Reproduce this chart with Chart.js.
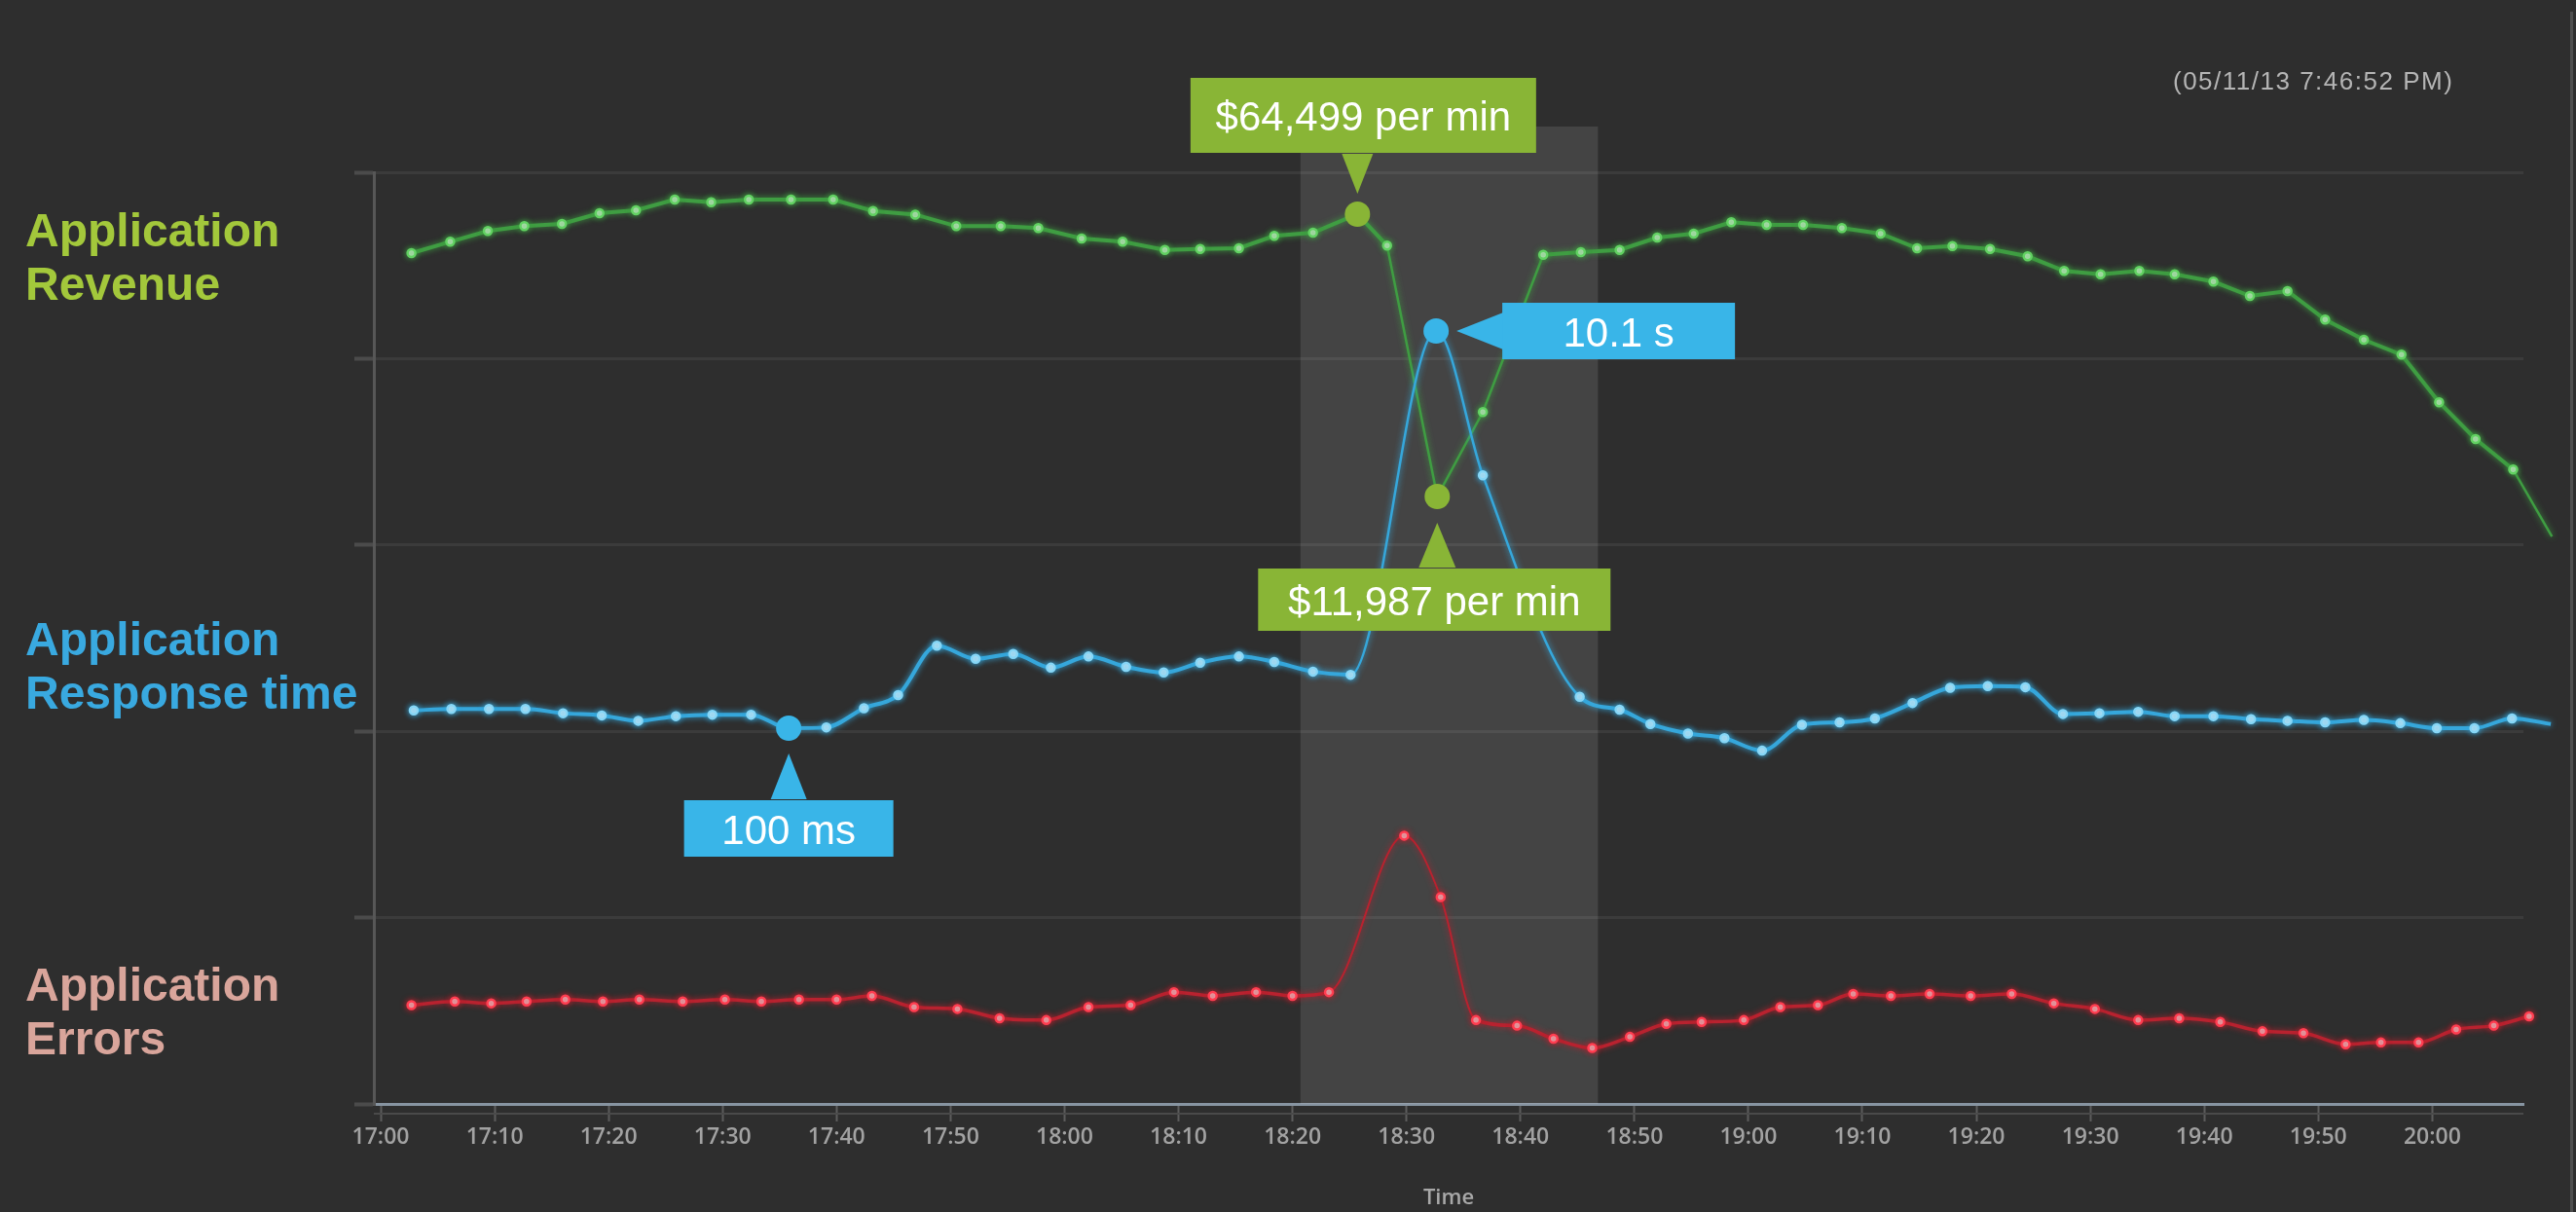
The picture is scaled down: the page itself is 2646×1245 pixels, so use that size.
<!DOCTYPE html>
<html>
<head>
<meta charset="utf-8">
<script src="https://cdn.jsdelivr.net/npm/chart.js@4.4.1/dist/chart.umd.min.js"></script>
<style>
  html, body { margin: 0; padding: 0; background: #2e2e2e; }
  #wrap { position: relative; width: 2646px; height: 1245px; overflow: hidden; }
  #chart { position: absolute; left: 0; top: 0; }
  .side { position: absolute; left: 26px; font: bold 48px "Liberation Sans", Arial, sans-serif; line-height: 55px; white-space: nowrap; }
  #stamp { position: absolute; left: 2232px; top: 68px; font: 26px "Liberation Sans", Arial, sans-serif; letter-spacing: 1.5px; color: #b5b5b5; white-space: nowrap; }
  #edge { position: absolute; left: 2640px; top: 12px; width: 3px; height: 1233px; background: #4e4e4e; }
</style>
</head>
<body>
<div id="wrap">
  <canvas id="chart" width="2646" height="1245"></canvas>
  <div class="side" style="top:209px;color:#a3c83b">Application<br>Revenue</div>
  <div class="side" style="top:629px;color:#39a9e0">Application<br>Response time</div>
  <div class="side" style="top:984px;color:#d9a59b">Application<br>Errors</div>
  <div id="stamp">(05/11/13 7:46:52 PM)</div>
  <div id="edge"></div>
</div>
<script>
// minutes after 17:00
const startHour = 17;

const revenueTimes = [2.7, 6.1, 9.4, 12.6, 15.9, 19.2, 22.4, 25.8, 29.0, 32.3,
  36.0, 39.7, 43.2, 46.9, 50.5, 54.4, 57.7, 61.5, 65.1, 68.8,
  71.9, 75.3, 78.4, 81.8, 85.7, 88.3, 92.7, 96.7, 102.0, 105.3,
  108.7, 112.0, 115.2, 118.5, 121.6, 124.8, 128.2, 131.6, 134.8, 137.9,
  141.2, 144.5, 147.7, 150.9, 154.3, 157.4, 160.8, 164.0, 167.3, 170.6,
  174.0, 177.3, 180.6, 183.8, 187.1, 190.5];
// $ per min
const revenueValues = [57260, 59370, 61370, 62270, 62690, 64680, 65220, 67220, 66730, 67220,
  67220, 67220, 65100, 64420, 62270, 62270, 61910, 59970, 59370, 57850,
  58030, 58160, 60460, 61060, 64499, 58650, 11987, 27690, 56950, 57440,
  57850, 60150, 60880, 63000, 62510, 62510, 61910, 60880, 58160, 58580,
  58030, 56660, 53940, 53330, 53940, 53330, 51950, 49290, 50190, 44890,
  41140, 38370, 29500, 22670, 17000, 4560];

const responseTimes = [2.9, 6.2, 9.5, 12.7, 16.0, 19.4, 22.6, 25.9, 29.1, 32.5,
  35.8, 39.1, 42.4, 45.4, 48.8, 52.2, 55.5, 58.8, 62.1, 65.4,
  68.7, 71.9, 75.3, 78.4, 81.8, 85.1, 92.6, 96.7, 105.2, 108.7,
  111.4, 114.7, 117.9, 121.2, 124.7, 128.0, 131.1, 134.4, 137.7, 141.0,
  144.3, 147.6, 150.8, 154.2, 157.4, 160.8, 164.1, 167.3, 170.6, 174.0,
  177.2, 180.4, 183.7, 187.0, 190.4];
// ms
const responseValues = [123, 125, 125, 125, 119, 116, 109, 115, 117, 117,
  100, 101, 126, 147, 261, 224, 237, 202, 230, 204,
  191, 214, 230, 216, 193, 186, 10100, 1887, 144, 124,
  105, 94, 89, 77, 104, 107, 112, 134, 160, 163,
  161, 118, 119, 121, 115, 115, 111, 109, 107, 110,
  106, 100, 100, 112, 105];

const errorTimes = [2.7, 6.5, 9.7, 12.8, 16.2, 19.5, 22.7, 26.5, 30.2, 33.4,
  36.7, 40.0, 43.1, 46.8, 50.6, 54.3, 58.4, 62.1, 65.8, 69.6,
  73.0, 76.8, 80.0, 83.2, 89.8, 93.0, 96.1, 99.7, 102.9, 106.3,
  109.6, 112.8, 115.9, 119.6, 122.8, 126.1, 129.2, 132.5, 135.9, 139.5,
  143.1, 146.8, 150.4, 154.2, 157.8, 161.4, 165.1, 168.7, 172.4, 175.5,
  178.8, 182.1, 185.4, 188.5];
// errors per min
const errorValues = [53, 55, 54, 55, 56, 55, 56, 55, 56, 55,
  56, 56, 58, 52, 51, 46, 45, 52, 53, 60,
  58, 60, 58, 60, 144, 111, 45, 42, 35, 30,
  36, 43, 44, 45, 52, 53, 59, 58, 59, 58,
  59, 54, 51, 45, 46, 44, 39, 38, 32, 33,
  33, 40, 42, 47];

// highlighted incident window (minutes after 17:00)
const incidentWindow = [80.7, 106.8];

const GREEN = '#89b536';
const BLUE = '#39b5e8';

// dataset order below: 0 errors, 1 response, 2 revenue
const callouts = [
  { dataset: 2, index: 24, text: '$64,499 per min', color: GREEN, side: 'top', w: 355, h: 77, gap: 21, arrow: 42, base: 32, dx: 6 },
  { dataset: 2, index: 26, text: '$11,987 per min', color: GREEN, side: 'bottom', w: 362, h: 64, gap: 27, arrow: 47, base: 38, dx: -3 },
  { dataset: 1, index: 26, text: '10.1 s', color: BLUE, side: 'right', w: 239, h: 58, gap: 21, arrow: 47, base: 38, dx: 0 },
  { dataset: 1, index: 10, text: '100 ms', color: BLUE, side: 'bottom', w: 215, h: 58, gap: 26, arrow: 48, base: 37, dx: 0 }
];

function series(times, values) {
  return times.map((t, i) => ({ x: t, y: values[i] }));
}

function clockLabel(v) {
  const total = startHour * 60 + v;
  const h = Math.floor(total / 60);
  const m = Math.round(total - h * 60);
  return h + ':' + String(m).padStart(2, '0');
}

// the hand-drawn spike segments are thinner
function steepWidth(thin) {
  return ctx => Math.abs(ctx.p1.y - ctx.p0.y) > 60 ? thin : undefined;
}

const overlayPlugin = {
  id: 'overlay',
  beforeDatasetsDraw(chart) {
    const { ctx, chartArea, scales } = chart;
    const x0 = scales.x.getPixelForValue(incidentWindow[0]);
    const x1 = scales.x.getPixelForValue(incidentWindow[1]);
    ctx.save();
    ctx.fillStyle = 'rgba(255,255,255,0.11)';
    ctx.fillRect(x0, chartArea.top - 47, x1 - x0, chartArea.bottom - chartArea.top + 47);
    ctx.fillStyle = '#4a4a4a';
    ctx.fillRect(chartArea.left, chartArea.bottom + 9, chartArea.right - chartArea.left, 2);
    ctx.restore();
  },
  // soft glow like the blurred screenshot
  beforeDatasetDraw(chart, args) {
    const ds = chart.data.datasets[args.index];
    chart.ctx.save();
    chart.ctx.shadowColor = ds.borderColor;
    chart.ctx.shadowBlur = 6;
  },
  afterDatasetDraw(chart) {
    chart.ctx.restore();
  },
  afterDatasetsDraw(chart) {
    const ctx = chart.ctx;
    callouts.forEach(c => {
      const pt = chart.getDatasetMeta(c.dataset).data[c.index];
      const x = pt.x, y = pt.y;
      let bx, by, tri;
      if (c.side === 'top') {
        const tip = y - c.gap, base = tip - c.arrow;
        tri = [[x, tip], [x - c.base / 2, base + 1], [x + c.base / 2, base + 1]];
        bx = x + c.dx - c.w / 2; by = base - c.h;
      } else if (c.side === 'bottom') {
        const tip = y + c.gap, base = tip + c.arrow;
        tri = [[x, tip], [x - c.base / 2, base - 1], [x + c.base / 2, base - 1]];
        bx = x + c.dx - c.w / 2; by = base;
      } else {
        const tip = x + c.gap, base = tip + c.arrow;
        tri = [[tip, y], [base + 1, y - c.base / 2], [base + 1, y + c.base / 2]];
        bx = base; by = y - c.h / 2;
      }
      ctx.save();
      ctx.fillStyle = c.color;
      ctx.beginPath();
      ctx.arc(x, y, 13, 0, Math.PI * 2);
      ctx.fill();
      ctx.beginPath();
      ctx.moveTo(tri[0][0], tri[0][1]);
      ctx.lineTo(tri[1][0], tri[1][1]);
      ctx.lineTo(tri[2][0], tri[2][1]);
      ctx.closePath();
      ctx.fill();
      ctx.fillRect(bx, by, c.w, c.h);
      ctx.fillStyle = '#ffffff';
      ctx.font = '42px "Liberation Sans", Arial, sans-serif';
      ctx.textAlign = 'center';
      ctx.textBaseline = 'alphabetic';
      ctx.fillText(c.text, bx + c.w / 2, by + c.h / 2 + 16);
      ctx.restore();
    });
  }
};

const tickFont = { family: '"Open Sans", sans-serif', size: 23, weight: '600' };

new Chart(document.getElementById('chart').getContext('2d'), {
  type: 'line',
  data: {
    datasets: [
      {
        label: 'Application Errors',
        data: series(errorTimes, errorValues),
        yAxisID: 'y',
        borderColor: '#b8222f',
        borderWidth: 3.5,
        cubicInterpolationMode: 'monotone',
        pointRadius: 4,
        pointBackgroundColor: '#ffe1e4',
        pointBorderColor: '#ff3d50',
        pointBorderWidth: 2.5,
        segment: { borderWidth: steepWidth(2) },
        clip: false
      },
      {
        label: 'Application Response time',
        data: series(responseTimes, responseValues),
        yAxisID: 'yResp',
        borderColor: '#36a7db',
        borderWidth: 4,
        cubicInterpolationMode: 'monotone',
        pointRadius: 4,
        pointBackgroundColor: '#eafaff',
        pointBorderColor: '#86d6f6',
        pointBorderWidth: 2.5,
        segment: { borderWidth: steepWidth(2.5) },
        clip: false
      },
      {
        label: 'Application Revenue',
        data: series(revenueTimes, revenueValues),
        yAxisID: 'yRev',
        borderColor: '#3f9d42',
        borderWidth: 4,
        tension: 0,
        pointRadius: 4,
        pointBackgroundColor: '#e4ffe4',
        pointBorderColor: '#62d162',
        pointBorderWidth: 2.5,
        segment: { borderWidth: steepWidth(2.5) },
        clip: false
      }
    ]
  },
  options: {
    responsive: false,
    animation: false,
    events: [],
    layout: { padding: { left: 364, right: 54, top: 177, bottom: 0 } },
    plugins: {
      legend: { display: false },
      tooltip: { enabled: false }
    },
    scales: {
      x: {
        type: 'linear',
        min: -0.6,
        max: 188.0,
        grid: { drawOnChartArea: false, drawTicks: true, tickLength: 18, tickColor: '#5c5c5c', tickWidth: 2 },
        border: { color: '#8794a1', width: 3 },
        ticks: {
          stepSize: 10,
          includeBounds: false,
          autoSkip: false,
          maxRotation: 0,
          padding: 3,
          color: '#a2a2a2',
          font: tickFont,
          callback: v => clockLabel(v)
        },
        title: {
          display: true,
          text: 'Time',
          color: '#a8a8a8',
          font: { family: '"Open Sans", sans-serif', size: 22, weight: '600' },
          padding: { top: 0, bottom: 1 }
        },
        afterFit: s => { s.height = 111; }
      },
      y: {
        type: 'linear',
        position: 'left',
        min: 0,
        max: 500,
        grid: {
          color: ctx => ctx.tick && ctx.tick.value === 0 ? 'rgba(0,0,0,0)' : '#3b3b3b',
          lineWidth: 3,
          tickLength: 20,
          tickColor: '#4b4b4b',
          tickWidth: 4
        },
        border: { color: '#575757', width: 3 },
        ticks: { display: false, stepSize: 100 },
        afterFit: s => { s.width = 20; }
      },
      yResp: { type: 'logarithmic', display: false, min: 1.27, max: 63840 },
      yRev: { type: 'linear', display: false, min: -101004, max: 72285 }
    }
  },
  plugins: [overlayPlugin]
});
</script>
</body>
</html>
